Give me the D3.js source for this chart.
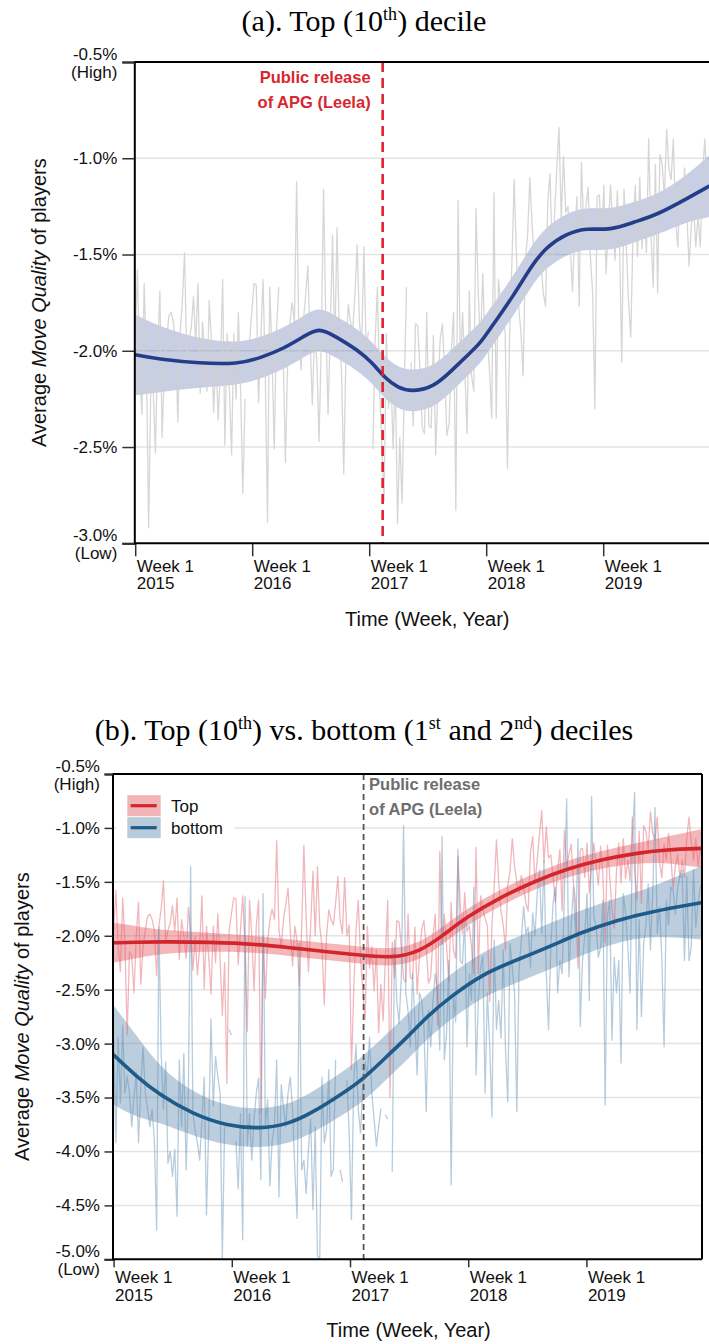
<!DOCTYPE html>
<html>
<head>
<meta charset="utf-8">
<script src="https://cdn.jsdelivr.net/npm/d3@7"></script>
<style>
  html, body { margin: 0; padding: 0; background: #fff; }
  svg { display: block; }
</style>
</head>
<body>
<svg id="chart" width="709" height="1344"></svg>
<script>
// Weekly average move quality (%) per decile, week 1 of 2015 onwards (null = no games that week)
const topDecile = [
  -1.95,-1.58,-2.10,-2.33,-1.65,-2.05,-2.92,-2.15,-2.18,-2.53,
  -2.00,-1.69,-2.45,-2.10,-1.95,-1.82,-1.80,-1.85,-1.95,-2.37,
  -1.91,-1.75,-1.49,-2.05,-1.95,-1.88,-1.72,-1.96,-1.65,-2.22,
  -1.85,-2.00,-2.21,-1.74,-1.95,-2.32,-2.01,-2.36,-2.10,-1.63,
  -2.49,-1.91,-2.20,-2.54,-1.91,-2.25,-1.80,-2.20,-2.74,-2.25,
  -3.37,-1.95,-1.80,-1.65,-1.66,-2.27,-1.95,-1.63,-2.10,-2.89,
  -1.67,-2.00,-2.51,-1.90,-1.67,-3.65,-2.00,-2.58,-2.05,-1.85,
  -1.75,-1.85,-1.12,-1.95,-2.10,-1.85,-1.71,-1.56,-1.95,-2.28,
  -1.91,-2.05,-2.47,-1.95,-1.16,-1.85,-2.33,-1.90,-1.40,-2.00,
  -1.36,-1.91,-2.10,-2.64,-2.00,-1.76,-1.85,-1.90,-1.70,-1.45,
  -1.85,-1.98,-1.46,-2.00,-1.90,-3.24,-2.51,-1.95,-1.67,-2.20,
  -2.50,-2.78,-1.91,-2.30,-2.10,-2.51,-2.13,-2.90,-2.45,-2.79,
  -2.19,-1.67,-3.50,-2.06,-2.39,-1.86,-1.87,-2.10,-2.40,-2.43,
  -1.80,-2.39,-2.40,-1.92,-2.54,-2.20,-1.94,-1.86,-2.10,-2.44,
  -2.38,-2.00,-1.80,-2.83,-1.22,-2.08,-1.80,-2.10,-2.43,-1.69,
  -2.13,-2.21,-1.26,-1.70,-1.98,-1.60,-1.96,-1.91,-2.10,-2.35,
  -1.18,-2.35,-1.63,-1.75,-1.84,-1.91,-2.61,-1.91,-1.55,-1.11,
  -1.50,-1.77,-1.90,-2.13,-1.53,-1.40,-1.10,-1.35,-1.51,-1.60,
  -1.44,-1.55,-1.70,-1.77,-1.23,-1.08,-1.51,-1.30,-1.06,-0.84,
  -1.32,-0.99,-1.28,-1.25,-1.45,-1.69,-1.40,-1.20,-1.77,-1.02,
  -1.36,-1.25,-1.15,-1.51,-1.70,-2.30,-1.20,-1.19,-1.46,-1.14,
  -1.60,-1.35,-1.14,-1.35,-1.53,-1.17,-1.44,-2.06,-1.16,-1.45,
  -1.74,-1.93,-1.40,-1.14,-1.51,-1.10,-1.47,-1.30,-1.49,-0.90,
  -1.39,-1.67,-1.03,-1.70,-0.98,-1.03,-1.20,-0.85,-1.05,-1.11,
  -0.90,-1.32,-1.46,-1.15,-1.30,-1.05,-1.28,-1.56,-1.35,-1.25,
  -1.46,-1.30,-1.46,-1.10,-0.90,-1.13,-1.30,-1.10,-1.35,-1.20,-1.15
];

const bottomDeciles = [
  -2.94,-3.92,-2.94,-3.55,-2.83,-3.46,-3.30,-3.46,-3.77,-3.50,
  -3.27,-3.92,-3.40,-3.03,-3.46,-3.60,-3.77,-3.61,-3.90,-4.73,
  -1.92,-3.09,-3.61,-3.17,-4.11,-4.00,-4.23,-3.98,-4.60,-3.15,
  -3.77,-3.09,-4.17,-3.46,-1.36,-3.65,-3.80,-3.92,-4.08,-3.71,
  -3.31,-4.59,-3.77,-2.77,-3.58,-3.12,-3.30,-3.46,-4.99,-3.77,
  null,-2.87,-2.92,null,-3.90,-4.35,-3.65,-4.82,-1.64,-3.95,
  -3.65,-4.08,-3.70,-3.46,-3.32,-4.26,-1.61,-3.77,-3.52,-4.32,
  -3.90,-3.77,-3.15,-4.42,-3.38,-3.60,-3.77,-3.46,-3.31,-3.61,
  -4.17,-4.62,-2.07,-4.17,-4.08,-4.39,-3.98,-3.70,-4.54,-3.77,
  -4.97,-4.99,-3.31,-3.92,-3.80,-3.24,-4.23,-4.17,-3.15,null,
  -4.17,-4.28,null,-3.34,-3.83,-4.63,-3.34,-3.01,-3.61,-3.83,
  -3.40,-3.17,-3.30,-2.94,-3.46,-3.70,-3.95,-3.77,-3.60,null,
  -3.66,-3.70,null,-4.19,-2.04,-2.60,-2.81,-2.40,-0.98,-2.53,
  -2.70,-3.03,-2.35,-2.80,-3.29,-2.53,-2.60,-2.84,-3.63,-2.69,
  -3.03,-2.60,-2.35,-2.53,-3.06,-1.08,-3.15,-2.90,-2.23,-4.31,
  -2.53,-2.80,-1.20,-2.23,-2.26,-1.85,-3.03,-2.35,-2.60,-1.55,
  -3.29,-2.60,-2.29,-2.19,-3.46,-2.53,-3.00,-3.68,-2.04,-2.87,
  -2.60,-2.95,-2.13,-3.06,-3.54,-2.07,-2.30,-2.53,-3.63,-2.30,
  -2.04,-1.73,-1.98,-1.92,-2.29,-1.79,-2.00,-1.61,-1.39,-1.98,
  -1.30,-2.35,-2.87,-2.10,-1.70,-1.55,-2.53,-2.23,-2.35,-1.61,
  -0.73,-2.38,-1.90,-1.55,-2.01,-1.10,-2.84,-2.23,-2.00,-1.61,
  -2.60,-0.71,-1.82,-1.92,-2.20,-2.10,-1.67,-3.57,-1.82,-1.67,
  -2.97,-2.20,-2.53,-2.23,-3.18,-1.61,-1.79,-2.10,-2.53,-1.11,
  -0.67,-2.87,-1.85,-2.75,-2.07,-1.90,-1.52,-2.13,-1.61,-0.81,
  -1.98,-1.73,-2.20,-3.03,-1.67,-1.90,-1.55,-1.58,-1.80,-1.55,
  -1.45,-1.39,-2.23,-1.45,-2.23,-2.10,-1.39,-1.92,-1.70,-1.55,-1.50
];

// Smoothed trend (fractional year, mean, half-width of the confidence band)
const topFitYear = [2015.00,2015.21,2015.55,2015.88,2016.08,2016.27,2016.44,2016.57,2016.71,2016.90,
                    2017.03,2017.13,2017.25,2017.37,2017.55,2017.71,2017.86,2017.95,2018.04,2018.23,
                    2018.40,2018.52,2018.69,2018.86,2019.06,2019.27,2019.46,2019.72,2019.90,2019.98];
const topFitMean = [-2.021,-2.045,-2.065,-2.070,-2.035,-1.988,-1.926,-1.878,-1.925,-1.995,
                    -2.064,-2.140,-2.195,-2.212,-2.190,-2.100,-2.012,-1.960,-1.880,-1.718,
                    -1.545,-1.459,-1.390,-1.362,-1.375,-1.330,-1.294,-1.208,-1.147,-1.120];
const topFitHalf = [0.210,0.170,0.125,0.110,0.108,0.108,0.108,0.108,0.108,0.108,
                    0.108,0.108,0.108,0.108,0.108,0.108,0.108,0.106,0.105,0.104,
                    0.105,0.106,0.108,0.108,0.108,0.106,0.104,0.120,0.160,0.170];

const redFitYear = [2015.00,2015.19,2015.39,2015.82,2016.24,2016.52,2016.81,2017.08,2017.36,2017.59,
                    2017.79,2017.99,2018.27,2018.55,2018.84,2019.13,2019.40,2019.68,2019.98];
const redFitMean = [-2.065,-2.060,-2.056,-2.058,-2.080,-2.115,-2.148,-2.179,-2.208,-2.148,
                    -1.994,-1.824,-1.645,-1.500,-1.377,-1.293,-1.238,-1.200,-1.190];
const redFitHalf = [0.185,0.150,0.110,0.085,0.077,0.077,0.077,0.080,0.080,0.080,
                    0.080,0.077,0.075,0.075,0.077,0.080,0.090,0.120,0.180];

const blueFitYear = [2015.00,2015.195,2015.39,2015.67,2015.96,2016.24,2016.47,2016.66,2016.94,2017.11,
                     2017.31,2017.49,2017.65,2017.85,2018.13,2018.41,2018.69,2018.97,2019.26,2019.54,2019.97];
const blueFitMean = [-3.105,-3.306,-3.475,-3.655,-3.765,-3.790,-3.748,-3.655,-3.460,-3.330,
                     -3.120,-2.935,-2.750,-2.565,-2.349,-2.225,-2.100,-1.963,-1.855,-1.778,-1.694];
const blueFitHalf = [0.460,0.380,0.255,0.200,0.180,0.180,0.180,0.190,0.200,0.210,
                     0.210,0.210,0.210,0.210,0.210,0.210,0.215,0.210,0.205,0.220,0.340];

// Axis ticks
const yearTicks = [2015, 2016, 2017, 2018, 2019];
const yTicksA = [-0.5, -1.0, -1.5, -2.0, -2.5, -3.0];
const yTicksB = [-0.5, -1.0, -1.5, -2.0, -2.5, -3.0, -3.5, -4.0, -4.5, -5.0];
const leelaRelease = 2017.115;   // week 7 of 2017

const SANS = '"Liberation Sans", Arial, Helvetica, sans-serif';
const SERIF = '"Liberation Serif", "Times New Roman", serif';
const smooth = d3.curveBasis;

const weekYear = i => 2015 + i * 7 / 365.25;
const svg = d3.select('#chart');
svg.append('rect').attr('width', 709).attr('height', 1344).attr('fill', '#fff');

function fitRows(years, mean, half) {
  return years.map((t, i) => ({ t, m: mean[i], h: half[i] }));
}

function title(y, parts) {
  const t = svg.append('text')
    .attr('x', 364).attr('y', y)
    .attr('text-anchor', 'middle')
    .attr('font-family', SERIF).attr('font-size', 30).attr('fill', '#000');
  parts.forEach(p => {
    if (typeof p === 'string') {
      t.append('tspan').text(p);
    } else {
      t.append('tspan').attr('font-size', 18).attr('dy', -11).text(p.sup);
      t.append('tspan').attr('dy', 11).text('\u200A').attr('font-size', 2);
    }
  });
}

function panel(cfg) {
  const x = d3.scaleLinear().domain([2015, 2020]).range(cfg.xRange);
  const y = d3.scaleLinear().domain(cfg.yDomain).range(cfg.yRange);
  const left = cfg.left, right = cfg.right, top = cfg.yRange[1], bottom = cfg.yRange[0];
  const g = svg.append('g');

  const clipId = 'clip-' + cfg.id;
  g.append('clipPath').attr('id', clipId)
    .append('rect').attr('x', left).attr('y', top)
    .attr('width', right - left).attr('height', bottom - top);

  // horizontal grid
  g.append('g').selectAll('line').data(cfg.yTicks.slice(1, -1)).join('line')
    .attr('x1', left).attr('x2', right)
    .attr('y1', d => y(d)).attr('y2', d => y(d))
    .attr('stroke', '#e4e4e4').attr('stroke-width', 1.5);

  const plot = g.append('g').attr('clip-path', `url(#${clipId})`);

  // confidence bands
  cfg.fits.forEach(f => {
    const rows = fitRows(f.year, f.mean, f.half);
    plot.append('path').datum(rows)
      .attr('d', d3.area().curve(smooth)
        .x(d => x(d.t)).y0(d => y(d.m - d.h)).y1(d => y(d.m + d.h)))
      .attr('fill', f.band).attr('fill-opacity', f.bandOpacity);
  });

  // weekly series
  cfg.raw.forEach(r => {
    const rows = r.values.map((v, i) => ({ t: weekYear(i), v }));
    plot.append('path').datum(rows)
      .attr('d', d3.line()
        .defined(d => d.v != null && (r.floor == null || d.v >= r.floor))
        .x(d => x(d.t)).y(d => y(d.v)))
      .attr('fill', 'none').attr('stroke', r.color)
      .attr('stroke-opacity', r.opacity).attr('stroke-width', r.width)
      .attr('stroke-linejoin', 'round');
  });

  // smoothed trends
  cfg.fits.forEach(f => {
    const rows = fitRows(f.year, f.mean, f.half);
    plot.append('path').datum(rows)
      .attr('d', d3.line().curve(smooth).x(d => x(d.t)).y(d => y(d.m)))
      .attr('fill', 'none').attr('stroke', f.color).attr('stroke-width', 3.6)
      .attr('stroke-linecap', 'round');
  });

  // release marker
  g.append('line')
    .attr('x1', x(leelaRelease)).attr('x2', x(leelaRelease))
    .attr('y1', top).attr('y2', bottom)
    .attr('stroke', cfg.markerColor).attr('stroke-width', cfg.markerWidth)
    .attr('stroke-dasharray', cfg.markerDash);

  const note = g.append('text')
    .attr('font-family', SANS).attr('font-weight', 'bold').attr('font-size', 16.5)
    .attr('fill', cfg.noteColor)
    .attr('text-anchor', cfg.noteAnchor);
  ['Public release', 'of APG (Leela)'].forEach((s, i) => {
    note.append('tspan')
      .attr('x', x(leelaRelease) + cfg.noteDx)
      .attr('y', cfg.noteY + i * 24.5)
      .text(s);
  });

  // frame
  const frame = g.append('g').attr('stroke', '#000').attr('stroke-width', 2).attr('fill', 'none');
  frame.append('line').attr('x1', left).attr('x2', right).attr('y1', top).attr('y2', top);
  frame.append('line').attr('x1', right).attr('x2', right).attr('y1', top).attr('y2', bottom);

  // y axis
  const yAxis = g.append('g').attr('transform', `translate(${left},0)`)
    .call(d3.axisLeft(y).tickValues(cfg.yTicks).tickSize(cfg.yTickLen).tickPadding(cfg.yPad)
      .tickFormat(d => d.toFixed(1) + '%'));
  yAxis.select('.domain').attr('stroke', '#000').attr('stroke-width', 2);
  yAxis.selectAll('.tick line').attr('stroke', '#333').attr('stroke-width', 1.5);
  yAxis.selectAll('.tick text')
    .attr('font-family', SANS).attr('font-size', 17).attr('fill', '#111')
    .each(function (d, i, nodes) {
      const extra = i === 0 ? '(High)' : (i === nodes.length - 1 ? '(Low)' : null);
      if (!extra) return;
      const t = d3.select(this);
      const xx = t.attr('x');
      const label = t.text();
      t.text(null).attr('dy', null);
      t.append('tspan').attr('x', xx).attr('y', -3).text(label);
      t.append('tspan').attr('x', xx).attr('y', 15).text(extra);
    });

  // x axis
  const xAxis = g.append('g').attr('transform', `translate(0,${bottom})`)
    .call(d3.axisBottom(x).tickValues(yearTicks).tickSize(cfg.xTickLen).tickFormat(''));
  xAxis.select('.domain').remove();
  g.append('line').attr('x1', left).attr('x2', right).attr('y1', bottom).attr('y2', bottom)
    .attr('stroke', '#000').attr('stroke-width', 2);
  xAxis.selectAll('.tick line').attr('stroke', '#333').attr('stroke-width', 1.5);
  xAxis.selectAll('.tick').append('text')
    .attr('font-family', SANS).attr('font-size', 17).attr('fill', '#111')
    .attr('text-anchor', 'start')
    .each(function (d) {
      const t = d3.select(this);
      t.append('tspan').attr('x', 1).attr('y', cfg.xLabel1).text('Week 1');
      t.append('tspan').attr('x', 1).attr('y', cfg.xLabel2).text(String(d));
    });

  // axis titles
  svg.append('text')
    .attr('x', (left + cfg.xRange[1]) / 2).attr('y', cfg.xTitleY)
    .attr('text-anchor', 'middle')
    .attr('font-family', SANS).attr('font-size', 20).attr('fill', '#111')
    .text('Time (Week, Year)');

  const yt = svg.append('text')
    .attr('transform', `translate(${cfg.yTitleX},${(top + bottom) / 2}) rotate(-90)`)
    .attr('text-anchor', 'middle').attr('dominant-baseline', 'central')
    .attr('font-family', SANS).attr('font-size', 20).attr('fill', '#111');
  yt.append('tspan').text('Average ');
  yt.append('tspan').attr('font-style', 'italic').text('Move Quality');
  yt.append('tspan').text(' of players');

  return { x, y, g };
}

// (a) top decile only
title(31, ['(a). Top (10', { sup: 'th' }, ') decile']);
panel({
  id: 'a',
  xRange: [135.2, 720.2],
  left: 134.3, right: 719,
  yDomain: [-3.0, -0.5], yRange: [543.3, 62],
  yTicks: yTicksA, yTickLen: 12, yPad: 5,
  xTickLen: 13, xLabel1: 29, xLabel2: 46,
  xTitleY: 626, yTitleX: 38.5,
  raw: [{ values: topDecile, color: '#cfcfcf', opacity: 0.85, width: 1.3, floor: -3.0 }],
  fits: [{ year: topFitYear, mean: topFitMean, half: topFitHalf,
           color: '#233d88', band: '#3a51a0', bandOpacity: 0.28 }],
  markerColor: '#dc2430', markerWidth: 2.6, markerDash: '10,6',
  noteColor: '#d8262f', noteAnchor: 'end', noteDx: -12, noteY: 83
});

// (b) top vs bottom deciles
title(740, ['(b). Top (10', { sup: 'th' }, ') vs. bottom (1', { sup: 'st' }, ' and 2', { sup: 'nd' }, ') deciles']);
panel({
  id: 'b',
  xRange: [113.6, 704.6],
  left: 112.5, right: 702,
  yDomain: [-5.0, -0.5], yRange: [1259.3, 774],
  yTicks: yTicksB, yTickLen: 8, yPad: 4.5,
  xTickLen: 8, xLabel1: 24, xLabel2: 42,
  xTitleY: 1337, yTitleX: 21.5,
  raw: [
    { values: topDecile, color: '#e0606a', opacity: 0.45, width: 1.3 },
    { values: bottomDeciles, color: '#5e8db3', opacity: 0.45, width: 1.3 }
  ],
  fits: [
    { year: redFitYear, mean: redFitMean, half: redFitHalf,
      color: '#d4242c', band: '#e2535b', bandOpacity: 0.42 },
    { year: blueFitYear, mean: blueFitMean, half: blueFitHalf,
      color: '#1f5b89', band: '#4f7ea5', bandOpacity: 0.38 }
  ],
  markerColor: '#555', markerWidth: 1.8, markerDash: '6,4',
  noteColor: '#6e6e6e', noteAnchor: 'start', noteDx: 5.5, noteY: 790
});

// legend
const legend = svg.append('g');
legend.append('rect').attr('x', 116).attr('y', 787).attr('width', 118).attr('height', 56).attr('fill', '#fff');
const legendItems = [
  { label: 'Top', band: '#f1b4b7', line: '#d4242c', y: 805.7 },
  { label: 'bottom', band: '#b7cbdb', line: '#1f5b89', y: 827.7 }
];
legendItems.forEach(d => {
  legend.append('rect').attr('x', 127.3).attr('y', d.y - 10.5).attr('width', 33.4).attr('height', 21)
    .attr('fill', d.band);
  legend.append('line').attr('x1', 130.7).attr('x2', 156.7).attr('y1', d.y).attr('y2', d.y)
    .attr('stroke', d.line).attr('stroke-width', 3.2);
  legend.append('text').attr('x', 171).attr('y', d.y + 6)
    .attr('font-family', SANS).attr('font-size', 17).attr('fill', '#111').text(d.label);
});
</script>
</body>
</html>
